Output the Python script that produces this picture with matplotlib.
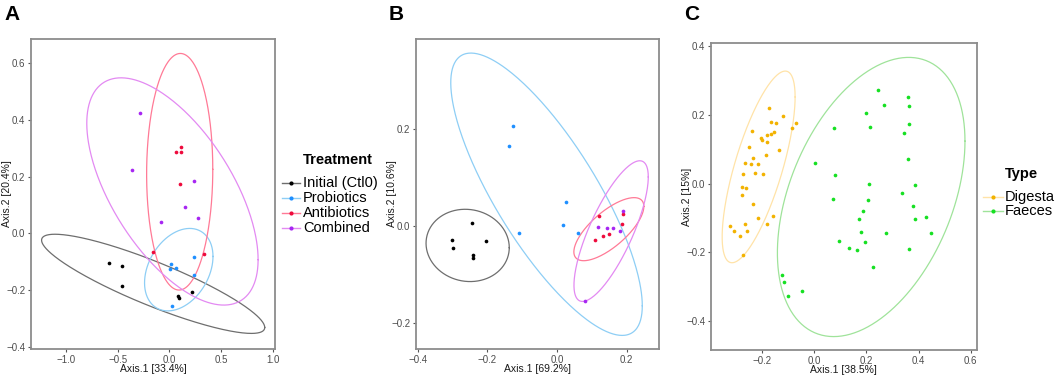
import numpy as np
import matplotlib
matplotlib.use("Agg")
import matplotlib.pyplot as plt
from matplotlib.lines import Line2D

plt.rcParams['font.family'] = ['Liberation Sans', 'DejaVu Sans']

# ---------------- Panel A data ----------------
a_groups = ["Initial (Ctl0)", "Probiotics", "Antibiotics", "Combined"]
a_initial_x = [-0.578, -0.459, -0.456, 0.082, 0.088, 0.221]
a_initial_y = [-0.105, -0.114, -0.186, -0.222, -0.229, -0.208]
a_probio_x = [0.014, 0.008, 0.066, 0.233, 0.233, 0.024]
a_probio_y = [-0.107, -0.127, -0.121, -0.084, -0.146, -0.256]
a_antibio_x = [0.063, 0.111, 0.114, 0.102, -0.163, 0.337]
a_antibio_y = [0.287, 0.305, 0.288, 0.173, -0.065, -0.072]
a_comb_x = [-0.288, -0.362, 0.240, 0.150, 0.275, -0.079]
a_comb_y = [0.424, 0.222, 0.186, 0.092, 0.053, 0.039]
# ellipses: centre, half x-extent, half y-extent, cos(phase)
a_ell_cx = [-0.157, 0.090, 0.099, 0.029]
a_ell_cy = [-0.178, -0.128, 0.2175, 0.148]
a_ell_ax = [1.076, 0.330, 0.319, 0.826]
a_ell_ay = [0.175, 0.1455, 0.4175, 0.401]
a_ell_c = [-0.88, 0.32, 0.02, -0.60]

# ---------------- Panel B data ----------------
b_initial_x = [-0.245, -0.301, -0.299, -0.204, -0.242, -0.240]
b_initial_y = [0.005, -0.030, -0.045, -0.031, -0.061, -0.066]
b_probio_x = [-0.125, -0.138, -0.108, 0.027, 0.017, 0.060]
b_probio_y = [0.205, 0.165, -0.014, 0.048, 0.002, -0.015]
b_antibio_x = [0.121, 0.190, 0.187, 0.110, 0.132, 0.150]
b_antibio_y = [0.020, 0.024, 0.003, -0.029, -0.022, -0.016]
b_comb_x = [0.191, 0.119, 0.144, 0.162, 0.181, 0.080]
b_comb_y = [0.030, -0.003, -0.005, -0.005, -0.010, -0.156]
b_ell_cx = [-0.2565, -0.030, 0.149, 0.1555]
b_ell_cy = [-0.0405, 0.065, -0.007, -0.011]
b_ell_ax = [0.1195, 0.275, 0.1005, 0.1067]
b_ell_ay = [0.0745, 0.291, 0.065, 0.145]
b_ell_c = [-0.06, -0.79, 0.72, 0.77]

# ---------------- Panel C data ----------------
c_groups = ["Digesta", "Faeces"]
c_dig_x = [-0.176, -0.119, -0.167, -0.149, -0.072, -0.087, -0.241, -0.156, -0.168,
           -0.181, -0.205, -0.202, -0.182, -0.250, -0.135, -0.186, -0.235, -0.265,
           -0.243, -0.215, -0.228, -0.273, -0.196, -0.279, -0.263, -0.279, -0.235,
           -0.160, -0.217, -0.268, -0.183, -0.324, -0.310, -0.260, -0.287, -0.275]
c_dig_y = [0.219, 0.198, 0.178, 0.176, 0.177, 0.161, 0.154, 0.149, 0.143,
           0.142, 0.132, 0.127, 0.122, 0.107, 0.098, 0.084, 0.075, 0.061,
           0.058, 0.056, 0.031, 0.028, 0.027, -0.009, -0.013, -0.033, -0.058,
           -0.095, -0.101, -0.118, -0.118, -0.124, -0.137, -0.137, -0.153, -0.207]
c_fae_x = [0.245, 0.359, 0.266, 0.362, 0.198, 0.363, 0.213, 0.076, 0.345, 0.361,
           0.003, 0.080, 0.211, 0.385, 0.336, 0.070, 0.205, 0.380, 0.188, 0.429,
           0.385, 0.171, 0.178, 0.274, 0.449, 0.093, 0.194, 0.133, 0.165, 0.362,
           0.226, -0.123, -0.116, -0.049, -0.103]
c_fae_y = [0.272, 0.251, 0.229, 0.226, 0.204, 0.174, 0.166, 0.162, 0.148, 0.072,
           0.061, 0.024, -0.002, -0.005, -0.028, -0.044, -0.049, -0.064, -0.080, -0.096,
           -0.104, -0.102, -0.140, -0.145, -0.144, -0.167, -0.170, -0.188, -0.193, -0.189,
           -0.242, -0.266, -0.286, -0.311, -0.326]
c_ell_cx = [-0.214, 0.218]
c_ell_cy = [0.0485, -0.039]
c_ell_ax = [0.140, 0.360]
c_ell_ay = [0.2787, 0.406]
c_ell_c = [0.73, 0.40]

# ---------------- styling ----------------
pt_cols = ["#000000", "#1E8FFF", "#EE0A3C", "#A726F2"]
ell_cols = ["#6E6E6E", "#8ECEF5", "#FF7A96", "#E38AF2"]
c_pt_cols = ["#F2B200", "#16E022"]
c_ell_cols = ["#FFE3A8", "#9FE39A"]

W, H = 1059, 379
fig = plt.figure(figsize=(W / 100, H / 100), dpi=100)
fig.patch.set_facecolor("white")


def fbox(l, t, r, b):
    return [l / W, 1 - b / H, (r - l) / W, (b - t) / H]


def ellipse(ax, cx, cy, hx, hy, c, color):
    t = np.linspace(0, 2 * np.pi, 400)
    phi = np.arccos(c)
    ax.plot(cx + hx * np.cos(t), cy + hy * np.cos(t - phi), color=color, lw=0.9, zorder=2)


def style(ax, xlabel, ylabel, xt, yt, xlim, ylim, box):
    l, t, r, b = box
    ax.set_xlim(*xlim)
    ax.set_ylim(*ylim)
    ax.set_xticks(xt)
    ax.set_yticks(yt)
    ax.set_xticklabels([f"{v:.1f}".replace("-", "\u2212") for v in xt])
    ax.set_yticklabels([f"{v:.1f}".replace("-", "\u2212") for v in yt])
    for s in ax.spines.values():
        s.set_color("#8C8C8C")
        s.set_linewidth(1.3)
    ax.tick_params(axis="both", length=2.5, width=0.8, color="#555555",
                   labelsize=7, labelcolor="#4D4D4D", pad=1.5)
    ax.set_xlabel(xlabel, fontsize=7.5, color="#1A1A1A")
    ax.set_ylabel(ylabel, fontsize=7.5, color="#1A1A1A")
    # label centres: y-label ~23 px left of the frame, x-label ~20 px below it
    ax.yaxis.set_label_coords(-24.0 / (r - l), 0.5)
    ax.xaxis.set_label_coords(0.5, -20.0 / (b - t))
    ax.xaxis.label.set_va("center")
    ax.yaxis.label.set_va("center")


# Panel A
boxA = (31, 39, 275, 349)
axA = fig.add_axes(fbox(*boxA))
a_xs = [a_initial_x, a_probio_x, a_antibio_x, a_comb_x]
a_ys = [a_initial_y, a_probio_y, a_antibio_y, a_comb_y]
for i in range(4):
    ellipse(axA, a_ell_cx[i], a_ell_cy[i], a_ell_ax[i], a_ell_ay[i], a_ell_c[i], ell_cols[i])
for i in range(4):
    axA.scatter(a_xs[i], a_ys[i], s=7, color=pt_cols[i], linewidths=0, zorder=3)
style(axA, "Axis.1 [33.4%]", "Axis.2 [20.4%]",
      [-1.0, -0.5, 0.0, 0.5, 1.0], [-0.4, -0.2, 0.0, 0.2, 0.4, 0.6],
      (-1.335, 1.018), (-0.408, 0.686), boxA)

# Panel B
boxB = (415.7, 39, 659, 349)
axB = fig.add_axes(fbox(*boxB))
b_xs = [b_initial_x, b_probio_x, b_antibio_x, b_comb_x]
b_ys = [b_initial_y, b_probio_y, b_antibio_y, b_comb_y]
for i in range(4):
    ellipse(axB, b_ell_cx[i], b_ell_cy[i], b_ell_ax[i], b_ell_ay[i], b_ell_c[i], ell_cols[i])
for i in range(4):
    axB.scatter(b_xs[i], b_ys[i], s=7, color=pt_cols[i], linewidths=0, zorder=3)
style(axB, "Axis.1 [69.2%]", "Axis.2 [10.6%]",
      [-0.4, -0.2, 0.0, 0.2], [-0.2, 0.0, 0.2],
      (-0.4057, 0.293), (-0.254, 0.385), boxB)

# Panel C
boxC = (710.7, 43.3, 976.7, 350)
axC = fig.add_axes(fbox(*boxC))
c_xs = [c_dig_x, c_fae_x]
c_ys = [c_dig_y, c_fae_y]
for i in range(2):
    ellipse(axC, c_ell_cx[i], c_ell_cy[i], c_ell_ax[i], c_ell_ay[i], c_ell_c[i], c_ell_cols[i])
for i in range(2):
    axC.scatter(c_xs[i], c_ys[i], s=7, color=c_pt_cols[i], linewidths=0, zorder=3)
style(axC, "Axis.1 [38.5%]", "Axis.2 [15%]",
      [-0.2, 0.0, 0.2, 0.4, 0.6], [-0.4, -0.2, 0.0, 0.2, 0.4],
      (-0.398, 0.623), (-0.484, 0.408), boxC)


# Legends (figure pixel coords)
def px(x, y):
    return x / W, 1 - y / H


def legend(title, labels, lcols, pcols, x0, x1, xt, ytitle, ys):
    fig.text(*px(xt, ytitle), title, fontsize=10.5, fontweight="bold",
             va="center", ha="left", color="#000000")
    for lab, lc, pc, yy in zip(labels, lcols, pcols, ys):
        fx0, fy = px(x0, yy)
        fx1, _ = px(x1, yy)
        fig.add_artist(Line2D([fx0, fx1], [fy, fy], color=lc, lw=1.0,
                              transform=fig.transFigure))
        fig.add_artist(Line2D([(fx0 + fx1) / 2], [fy], color=pc, marker="o",
                              markersize=3, markeredgewidth=0, linestyle="none",
                              transform=fig.transFigure))
        fig.text(*px(xt, yy), lab, fontsize=10.5, va="center", ha="left", color="#000000")


legend("Treatment", a_groups, ell_cols, pt_cols, 282, 300, 303, 160, [183, 198, 213, 228])
legend("Type", c_groups, c_ell_cols, c_pt_cols, 983, 1003, 1005, 174, [197, 211])

# panel letters
for lab, x in [("A", 4), ("B", 389), ("C", 684)]:
    fig.text(*px(x, 14), lab, fontsize=15, fontweight="bold", va="center", ha="left")

fig.savefig("out.png", dpi=100, facecolor="white")
